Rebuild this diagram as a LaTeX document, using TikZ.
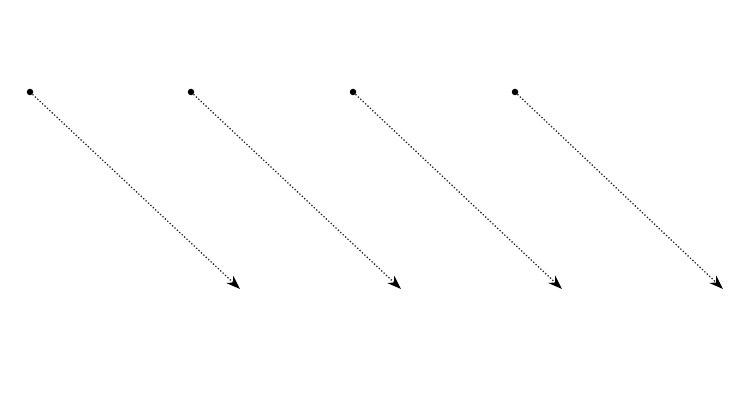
\documentclass[tikz,border=0pt]{standalone}
\usetikzlibrary{arrows.meta}

\begin{document}
\begin{tikzpicture}[x=1pt,y=-1pt,
  pt/.style={circle, fill=black, inner sep=0pt, minimum size=6.5pt},
  tip/.style={coordinate},
  move/.style={black!85, line width=1.3pt, dotted, -{Stealth[length=14pt, width=10pt, black]}}]
\useasboundingbox (0,0) rectangle (732,419);
\node[pt] (s1) at (30,92) {};
\node[pt] (s2) at (191,92) {};
\node[pt] (s3) at (353,92) {};
\node[pt] (s4) at (515,92) {};
\node[tip] (e1) at (240,289) {};
\node[tip] (e2) at (401,289) {};
\node[tip] (e3) at (562,289) {};
\node[tip] (e4) at (723,289) {};
\draw[move] (s1) -- (e1);
\draw[move] (s2) -- (e2);
\draw[move] (s3) -- (e3);
\draw[move] (s4) -- (e4);
\end{tikzpicture}
\end{document}
